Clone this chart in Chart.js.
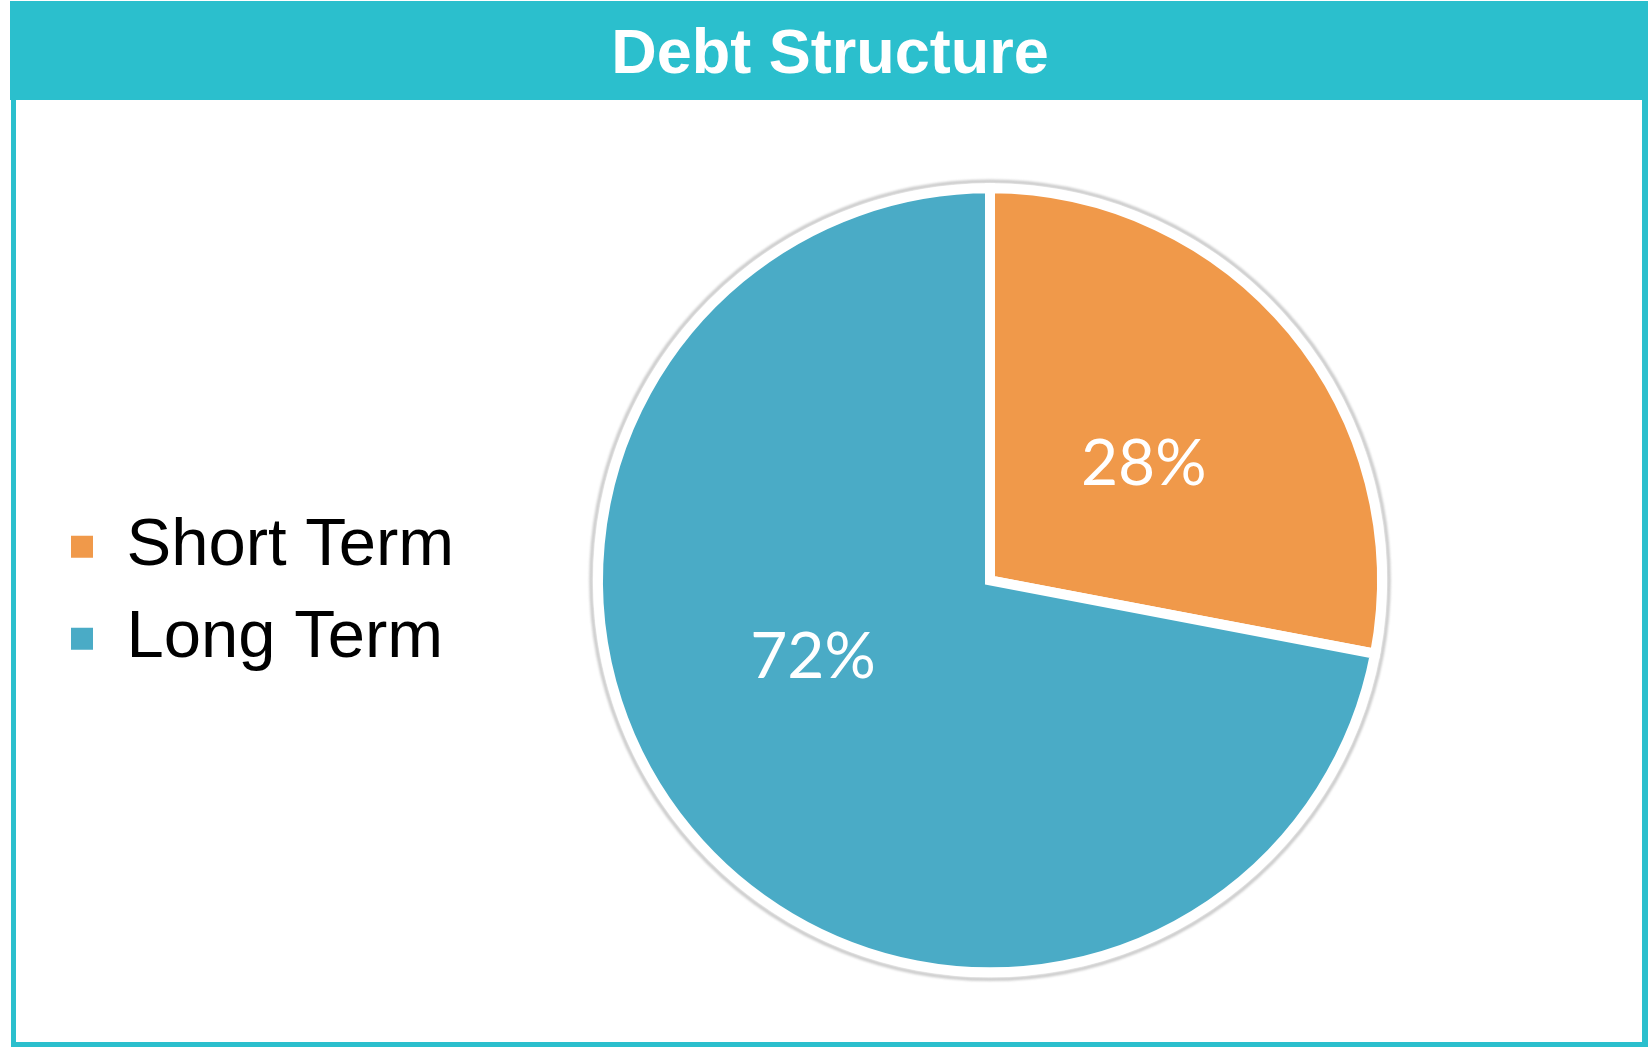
<!DOCTYPE html>
<html>
<head>
<meta charset="utf-8">
<title>Debt Structure</title>
<script src="https://cdn.jsdelivr.net/npm/chart.js@4.4.1/dist/chart.umd.min.js"></script>
<style>
  html, body { margin: 0; padding: 0; background: #ffffff; }
  #wrap { width: 1648px; height: 1047px; position: relative; }
  canvas { display: block; }
</style>
</head>
<body>
<div id="wrap"><canvas id="c" width="1648" height="1047"></canvas></div>
<script>
// ---- data ----
const chartTitle = 'Debt Structure';
const categories = ['Short Term', 'Long Term'];
const shares = [28, 72];

// ---- styles ----
const sliceColors = ['#F0994A', '#4AABC6'];
const teal = '#2BBFCD';

const framePlugin = {
  id: 'frame',
  beforeDraw(chart) {
    const ctx = chart.ctx;
    ctx.save();
    ctx.fillStyle = '#ffffff';
    ctx.fillRect(0, 0, chart.width, chart.height);
    ctx.fillStyle = teal;
    ctx.fillRect(10, 1, 1638, 99);      // header bar
    ctx.fillRect(11, 1, 5, 1046);       // left border
    ctx.fillRect(1642, 1, 6, 1046);     // right border
    ctx.fillRect(11, 1042, 1637, 5);    // bottom border
    ctx.restore();
  }
};

// legend box is narrowed (maxWidth) so the pie sits right of the centred title;
// widen its clip area again after layout so the label text is not cut,
// and nudge the item block down a little.
const legendAdjustPlugin = {
  id: 'legendAdjust',
  afterLayout(chart) {
    const lg = chart.legend;
    if (lg) {
      lg.right = lg.left + 460;
      lg.width = 460;
      lg.top = lg.top + 25;
    }
  }
};

const haloPlugin = {
  id: 'halo',
  beforeDatasetsDraw(chart) {
    const meta = chart.getDatasetMeta(0);
    if (!meta.data.length) return;
    const a = meta.data[0];
    const ctx = chart.ctx;
    ctx.save();
    ctx.beginPath();
    ctx.arc(a.x, a.y, a.outerRadius + 7, 0, Math.PI * 2);
    ctx.lineWidth = 3.5;
    ctx.strokeStyle = 'rgba(160,160,160,0.55)';
    ctx.filter = 'blur(1.2px)';
    ctx.stroke();
    ctx.restore();
  }
};

const sliceLabelPlugin = {
  id: 'sliceLabels',
  afterDatasetsDraw(chart, args, opts) {
    const meta = chart.getDatasetMeta(0);
    const data = chart.data.datasets[0].data;
    const total = data.reduce((s, v) => s + v, 0);
    const ctx = chart.ctx;
    ctx.save();
    ctx.fillStyle = '#ffffff';
    ctx.font = opts.font;
    ctx.textAlign = 'center';
    ctx.textBaseline = 'alphabetic';
    meta.data.forEach((arc, i) => {
      const p = arc.getProps(['x', 'y', 'startAngle', 'endAngle', 'outerRadius'], true);
      const place = opts.placement[i];
      const ang = (p.startAngle + p.endAngle) / 2 + place.angleShift * Math.PI / 180;
      const r = p.outerRadius * place.radiusRatio;
      const x = p.x + Math.cos(ang) * r;
      const y = p.y + Math.sin(ang) * r;
      const txt = Math.round(data[i] / total * 100) + '%';
      ctx.fillText(txt, x, y + opts.capHalf);
    });
    ctx.restore();
  }
};

new Chart(document.getElementById('c'), {
  type: 'pie',
  data: {
    labels: categories,
    datasets: [{
      data: shares,
      backgroundColor: sliceColors,
      borderColor: '#ffffff',
      borderWidth: 10,
      borderJoinStyle: 'miter',
      radius: 392
    }]
  },
  plugins: [framePlugin, legendAdjustPlugin, haloPlugin, sliceLabelPlugin],
  options: {
    responsive: false,
    devicePixelRatio: 1,
    animation: false,
    events: [],
    layout: { padding: { left: 46, right: 34, top: 0, bottom: 0 } },
    plugins: {
      title: {
        display: true,
        text: chartTitle,
        color: '#ffffff',
        font: { family: "'Liberation Sans', Arial, sans-serif", size: 63, weight: 'bold', lineHeight: 1.2 },
        padding: { top: 18, bottom: 20 }
      },
      legend: {
        position: 'left',
        fullSize: false,
        maxWidth: 320,
        labels: {
          color: '#000000',
          font: { family: "'Liberation Sans', Arial, sans-serif", size: 67 },
          boxWidth: 22,
          boxHeight: 22,
          padding: 25,
          generateLabels: (chart) => chart.data.labels.map((text, i) => ({
            text,
            fillStyle: chart.data.datasets[0].backgroundColor[i],
            strokeStyle: 'rgba(0,0,0,0)',
            lineWidth: 0,
            hidden: false,
            index: i,
            fontColor: '#000000'
          }))
        }
      },
      tooltip: { enabled: false },
      sliceLabels: {
        font: "64px Lato, 'Open Sans', sans-serif",
        capHalf: 23,
        placement: [
          { angleShift: 2, radiusRatio: 0.495 },
          { angleShift: 16.8, radiusRatio: 0.49 }
        ]
      }
    }
  }
});
</script>
</body>
</html>
